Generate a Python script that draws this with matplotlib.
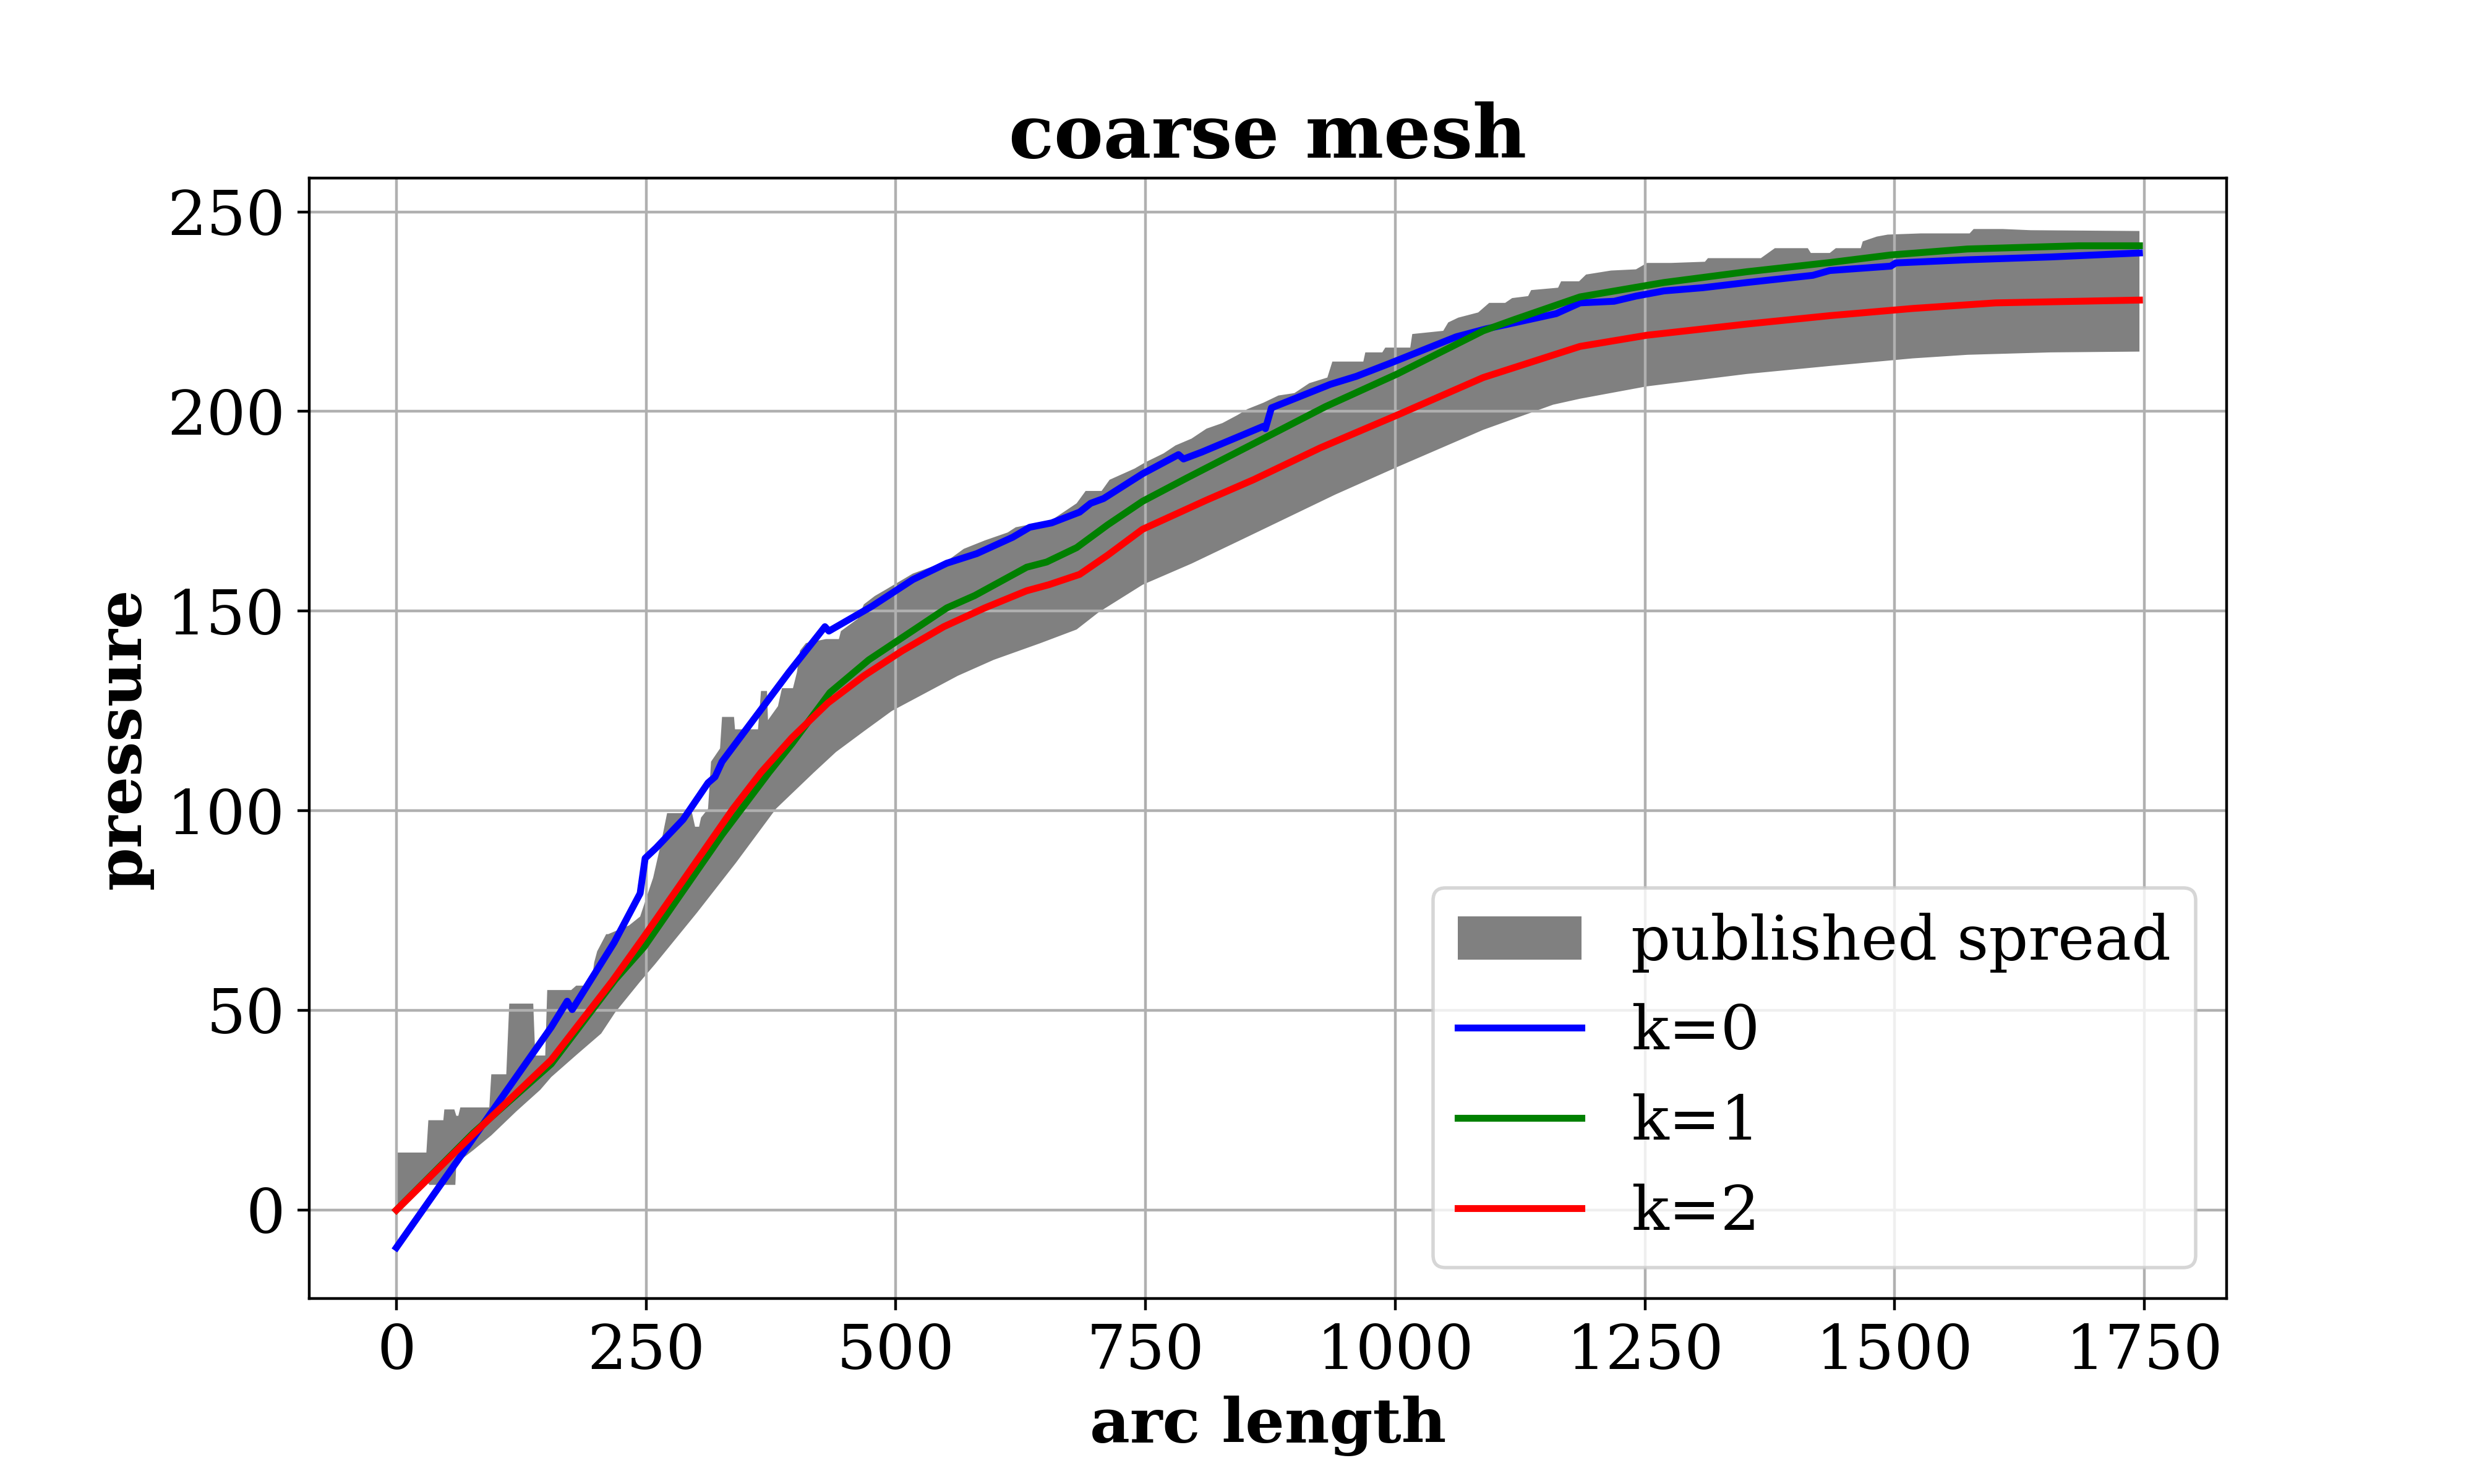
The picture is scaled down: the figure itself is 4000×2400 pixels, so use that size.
import numpy as np
import matplotlib
matplotlib.use("Agg")
import matplotlib.pyplot as plt

plt.rcParams["font.family"] = "serif"
plt.rcParams["font.size"] = 18

# published spread: upper and lower envelope, each on its own arc-length grid
spread_hi_x = [0, 30, 32, 47, 48, 58, 60, 62, 64, 93, 95, 110, 113, 137, 139, 149,
               151, 175, 180, 195, 198, 201, 210, 212, 233, 244, 250, 257, 265, 271,
               296, 299, 303, 305, 312, 315, 324, 326, 338, 339, 362, 365, 371, 372,
               382, 386, 397, 401, 404, 410, 430, 443, 445, 462, 468, 479, 490, 517,
               551, 568, 589, 612, 620, 656, 681, 690, 706, 714, 739, 750, 768, 780,
               796, 811, 827, 842, 852, 868, 883, 899, 914, 932, 937, 968, 970, 987,
               990, 1015, 1017, 1048, 1053, 1063, 1083, 1094, 1110, 1117, 1133, 1136,
               1163, 1166, 1184, 1191, 1216, 1241, 1252, 1276, 1310, 1313, 1366, 1380,
               1413, 1416, 1435, 1441, 1466, 1468, 1482, 1493, 1526, 1575, 1579, 1608,
               1636, 1745]
spread_hi = [14.4, 14.4, 22.5, 22.5, 25.2, 25.2, 23.6, 23.6, 25.7, 25.7, 34, 34, 51.7, 51.7,
             38.7, 38.7, 55.1, 55.1, 56.2, 56.2, 62, 64.8, 69.1, 69.1, 71.3, 73.5, 78, 83.2,
             92, 99.4, 99.4, 96, 96, 98.3, 100.5, 112.3, 115.6, 123.5, 123.5, 120.4, 120.4,
             130, 130, 122.7, 126.2, 130.7, 130.7, 134.7, 140.1, 142, 143, 143, 145, 148.1,
             151.7, 153.8, 155.4, 159.4, 162.5, 165.6, 167.7, 169.7, 171, 172.8, 177, 180.1,
             180.1, 182.9, 185.7, 187.3, 189.5, 191.5, 193.2, 195.7, 197.1, 199.1, 200.6,
             202.2, 204, 204.6, 207.1, 208.5, 212.5, 212.5, 214.8, 214.8, 216, 216, 219.4,
             220.2, 222.3, 223.5, 224.8, 227.2, 227.2, 228.4, 228.9, 230.4, 231, 232.6,
             232.6, 234.3, 235.3, 235.6, 237.2, 237.2, 237.5, 238.4, 238.4, 240.9, 240.9,
             239.7, 239.7, 240.9, 240.9, 242.6, 243.8, 244.3, 244.6, 244.6, 245.7, 245.7,
             245.4, 245.2]

spread_lo_x = [0, 30, 33, 59, 60, 77, 95, 120, 144, 155, 180, 205, 219, 244, 259, 301, 340,
               380, 418, 440, 468, 496, 523, 562, 598, 645, 681, 703, 747, 796, 847, 940,
               1002, 1088, 1158, 1185, 1252, 1352, 1435, 1518, 1573, 1656, 1745]
spread_lo = [0.5, 7.4, 6.3, 6.3, 11.7, 15, 18.7, 24.7, 30.1, 33.3, 38.8, 44.2, 49.5, 57.2,
             61.6, 74.5, 87, 100.5, 109.6, 114.7, 119.9, 125, 128.6, 133.8, 137.8, 142,
             145.4, 149.7, 156.6, 161.9, 168, 179.2, 186.1, 195.4, 201.7, 203.2, 206.3,
             209.4, 211.4, 213.3, 214.2, 214.8, 215]

# computed solutions
k0_x = [0, 155, 171, 176, 218, 244, 249, 260, 287, 312, 319, 326, 393, 429, 433, 476,
        517, 551, 581, 617, 634, 656, 684, 695, 708, 747, 783, 788, 806, 868, 870, 876,
        935, 961, 994, 1030, 1061, 1091, 1119, 1161, 1185, 1219, 1241, 1269, 1308, 1352,
        1418, 1435, 1496, 1501, 1573, 1656, 1745]
k0_y = [-9.4, 45.8, 52.3, 50.2, 67, 79.3, 88.1, 90.7, 97.8, 107, 108.5, 112.3, 134.7,
        146.1, 145, 151.2, 157.9, 162, 164.4, 168.5, 171, 172.1, 174.8, 177, 178.2, 184.4,
        189.2, 188.1, 189.8, 196.3, 195.7, 200.9, 206.8, 208.8, 212, 215.6, 218.7, 220.7,
        222.2, 224.5, 227.2, 227.6, 228.9, 230.2, 231, 232.3, 234.1, 235.3, 236.4, 237.2,
        238, 238.7, 239.7]

k1_x = [0, 77, 155, 219, 248, 326, 373, 396, 434, 473, 551, 579, 631, 651, 681, 712, 747,
        791, 868, 930, 1002, 1088, 1119, 1185, 1269, 1352, 1435, 1496, 1573, 1684, 1745]
k1_y = [0, 19.3, 36.6, 57.7, 65.9, 94, 109.6, 116.8, 129.6, 137.8, 150.8, 153.9, 161,
        162.3, 165.9, 171.6, 177.5, 183.3, 193.2, 201.2, 209.4, 220.2, 223, 228.7, 232.3,
        235, 237.3, 239.2, 240.7, 241.5, 241.5]

k2_x = [0, 77, 155, 216, 248, 337, 365, 396, 432, 468, 506, 548, 589, 631, 653, 684, 712,
        747, 811, 858, 925, 1002, 1088, 1185, 1252, 1352, 1435, 1518, 1601, 1745]
k2_y = [0, 19, 37.6, 57.3, 68.5, 100.5, 109.6, 118.3, 127, 133.8, 140, 146.1, 150.8,
        155.1, 156.6, 159.2, 164, 170.5, 177.8, 182.9, 190.9, 199.1, 208.5, 216.3, 219.1,
        221.9, 224, 225.8, 227.2, 227.9]

fig, ax = plt.subplots(figsize=(10, 6), dpi=400)
fig.subplots_adjust(bottom=0.125)

# envelope polygon: upper edge left-to-right, lower edge back
poly_x = np.concatenate([spread_hi_x, spread_lo_x[::-1]])
poly_y = np.concatenate([spread_hi, spread_lo[::-1]])
ax.fill(poly_x, poly_y, color="gray", lw=0, label="published spread")

ax.plot(k0_x, k0_y, color="b", lw=2, label="k=0")
ax.plot(k1_x, k1_y, color="g", lw=2, label="k=1")
ax.plot(k2_x, k2_y, color="r", lw=2, label="k=2")

ax.grid(True)
ax.set_title("coarse mesh", fontweight="bold")
ax.set_xlabel("arc length", fontweight="bold")
ax.set_ylabel("pressure", fontweight="bold")
ax.legend(loc="lower right")

fig.savefig("out.png", dpi=400)
